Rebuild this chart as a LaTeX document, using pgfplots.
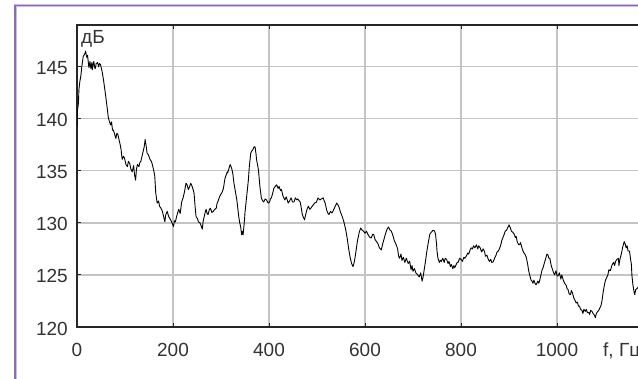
\documentclass[border=0pt]{standalone}
\usepackage{fontspec}
\setmainfont{Liberation Sans}
\usepackage{pgfplots}
\pgfplotsset{compat=1.18}
\definecolor{framepurple}{HTML}{8C6CB4}
\definecolor{gridgray}{HTML}{C4C4C4}
\definecolor{axisdark}{HTML}{262626}
\definecolor{ticktext}{HTML}{333333}
\begin{document}
\begin{tikzpicture}
\useasboundingbox (0,0) rectangle (638pt,378pt);
\clip (0,0) rectangle (638pt,378pt);
\fill[white] (0,0) rectangle (638pt,378pt);
\draw[framepurple!45, line width=3pt] (15pt,-10pt) -- (15pt,372.5pt) -- (700pt,372.5pt);
\draw[framepurple, line width=1.8pt] (15pt,-10pt) -- (15pt,372.5pt) -- (700pt,372.5pt);
\begin{axis}[
  at={(77pt,51pt)}, anchor=south west,
  scale only axis, width=576pt, height=302pt,
  xmin=0, xmax=1200, ymin=120, ymax=149,
  xtick={0,200,400,600,800,1000},
  extra x ticks={1200},
  extra x tick labels={},
  ytick={120,125,130,135,140,145},
  grid=major,
  major grid style={gridgray, line width=1.3pt},
  axis line style={axisdark, line width=1.1pt},
  tick style={axisdark, line width=1pt},
  tick align=inside,
  major tick length=4pt,
  /pgf/number format/assume math mode=true,
  /pgf/number format/1000 sep={},
  tick label style={font=\fontsize{19}{20}\selectfont, text=ticktext},
  xticklabel style={anchor=base, yshift=-29pt, inner sep=0pt},
  yticklabel style={anchor=east, xshift=-9pt, yshift=-1.5pt, inner sep=0pt},
  clip=true,
]
\addplot[black, line width=0.9pt, line join=round] coordinates {
(0,139.2) (1,140.8) (3,141.5) (4,142.8) (6,143.6) (8,144.1) (10,145.0) (13,146.0) (16,146.2) (18,146.5)
(20,145.9) (22,146.1) (24,145.2) (25,144.9) (27,145.5) (29,144.8) (31,145.4) (32,144.7) (34,145.3) (35,145.5)
(37,144.9) (38,144.8) (40,145.3) (43,145.4) (45,145.0) (47,145.3) (49,145.2) (52,144.6) (55,143.8) (58,142.8)
(60,142.1) (63,141.0) (65,140.2) (67,139.8) (70,139.4) (72,139.7) (74,138.9) (76,138.9) (79,138.4) (81,138.1)
(83,138.6) (85,138.5) (88,137.9) (90,137.5) (92,137.0) (94,136.1) (97,136.4) (99,136.2) (102,135.6) (105,135.4)
(107,135.9) (110,135.7) (112,135.2) (115,134.9) (118,135.5) (120,134.6) (122,134.1) (124,135.2) (126,135.6) (129,135.4)
(131,135.8) (133,135.9) (135,136.3) (137,136.7) (140,137.3) (142,138.0) (144,137.4) (146,136.7) (149,136.5) (152,136.1)
(155,135.9) (157,135.6) (160,135.0) (162,134.5) (164,132.9) (167,131.9) (170,132.1) (172,131.6) (175,131.4) (178,131.1)
(180,130.7) (183,130.1) (185,130.8) (188,131.1) (191,130.6) (195,130.3) (198,130.0) (201,129.65) (203,130.2) (205,130.1)
(208,130.7) (212,131.3) (215,130.9) (218,132.0) (221,132.4) (224,133.0) (227,133.8) (229,133.7) (232,133.2) (234,133.4)
(237,133.8) (239,133.6) (242,133.2) (244,132.8) (246,131.6) (248,130.6) (251,130.4) (253,130.1) (256,130.0) (258,129.8)
(261,129.4) (263,130.2) (265,130.6) (267,131.0) (269,131.3) (271,130.9) (273,130.8) (276,131.3) (278,131.4) (281,131.0)
(284,131.1) (287,131.3) (290,131.4) (292,131.9) (294,132.1) (297,132.5) (299,132.7) (302,132.9) (305,133.3) (308,134.2)
(310,134.5) (313,134.9) (314,134.8) (317,135.3) (319,135.6) (321,135.4) (323,135.1) (325,134.6) (327,133.8) (330,133.0)
(333,132.2) (335,131.4) (337,130.6) (339,130.0) (341,129.6) (343,128.85) (344,129.2) (346,128.85) (347,129.3) (349,130.3)
(350,131.0) (352,131.9) (355,133.2) (357,134.1) (359,135.4) (362,136.7) (364,136.9) (366,137.0) (369,137.3) (371,137.3)
(373,136.6) (374,136.1) (376,135.6) (378,135.1) (381,133.5) (383,132.8) (384,132.4) (387,132.1) (389,132.0) (392,132.3)
(395,132.2) (398,131.9) (401,132.0) (403,132.3) (405,132.4) (408,132.9) (410,133.3) (413,133.5) (416,133.65) (419,133.3)
(421,133.5) (424,133.1) (426,133.2) (429,132.6) (433,132.2) (436,132.5) (440,131.9) (443,132.1) (446,132.4) (449,132.0)
(452,132.0) (455,132.4) (458,132.2) (460,132.3) (463,132.1) (465,132.0) (467,131.5) (469,130.9) (471,130.6) (474,130.3)
(476,130.7) (478,131.1) (480,131.4) (482,131.6) (485,131.3) (487,131.4) (490,131.6) (492,131.7) (495,131.9) (499,132.0)
(502,132.4) (506,132.2) (509,132.3) (513,132.4) (515,132.1) (517,131.9) (519,131.5) (520,131.25) (523,130.9) (525,130.8)
(528,131.1) (531,130.95) (533,131.1) (536,131.4) (538,131.6) (541,131.9) (544,131.7) (546,131.5) (549,131.0) (551,130.8)
(554,130.4) (556,130.1) (558,129.7) (560,129.3) (563,128.5) (566,127.5) (569,126.7) (572,126.1) (575,125.8) (578,126.3)
(581,127.2) (584,128.2) (588,129.1) (591,129.5) (594,129.3) (597,129.2) (600,129.0) (603,129.2) (606,128.9) (610,128.6)
(613,128.55) (616,128.9) (618,128.9) (621,128.4) (624,128.2) (627,128.0) (630,127.6) (634,127.4) (637,128.0) (640,128.5)
(643,129.0) (646,129.4) (649,129.6) (652,129.3) (655,129.2) (658,128.8) (661,128.3) (665,127.9) (668,127.5) (670,126.8)
(672,126.6) (675,127.0) (677,126.4) (680,126.7) (683,126.2) (686,126.6) (690,126.1) (693,126.3) (696,125.5) (698,125.9)
(700,125.35) (703,125.6) (706,125.2) (710,125.0) (713,124.8) (716,125.2) (719,124.4) (721,124.8) (723,125.4) (726,126.3)
(728,127.0) (730,127.6) (733,128.4) (735,128.9) (738,129.1) (742,129.3) (745,129.2) (747,128.9) (749,128.0) (750,127.3)
(752,126.6) (755,126.2) (757,126.4) (759,126.3) (762,126.6) (765,126.2) (767,126.6) (770,126.5) (773,126.1) (775,126.3)
(778,125.8) (780,126.0) (783,125.6) (785,125.9) (787,125.7) (790,126.0) (792,126.2) (794,126.2) (797,126.6) (800,126.5)
(803,126.3) (806,126.7) (808,126.6) (811,126.8) (814,127.1) (816,127.0) (819,127.4) (821,127.6) (824,127.5) (826,127.8)
(829,127.6) (832,127.9) (835,127.5) (837,127.8) (840,127.6) (843,127.2) (846,127.5) (849,127.25) (851,126.8) (854,126.9)
(856,126.6) (859,126.3) (862,126.5) (864,126.2) (867,126.25) (870,126.6) (873,126.9) (875,127.2) (877,127.25) (880,127.5)
(883,127.9) (885,128.3) (887,128.55) (890,128.9) (892,129.2) (895,129.3) (898,129.6) (900,129.8) (903,129.5) (905,129.2)
(908,129.1) (911,128.9) (913,128.6) (915,128.7) (917,128.2) (920,127.9) (922,127.9) (924,128.1) (927,127.6) (930,127.2)
(933,127.0) (936,126.7) (939,126.0) (941,125.4) (943,125.0) (946,124.5) (948,124.4) (950,124.2) (952,124.5) (955,124.1)
(957,124.1) (960,124.4) (962,124.2) (964,124.5) (967,125.1) (969,125.5) (971,125.7) (974,126.2) (976,126.5) (979,127.0)
(981,126.95) (983,126.6) (985,126.6) (988,125.9) (990,125.6) (993,125.2) (995,125.0) (998,125.4) (1000,124.9) (1002,124.9)
(1005,125.2) (1008,124.6) (1010,125.0) (1013,124.5) (1016,124.2) (1019,124.0) (1021,123.7) (1023,123.6) (1025,123.2) (1028,123.1)
(1030,123.5) (1032,123.3) (1035,122.8) (1037,122.6) (1040,122.3) (1042,122.4) (1045,122.0) (1047,122.0) (1049,121.7) (1052,121.6)
(1054,121.3) (1056,121.7) (1059,121.5) (1061,121.7) (1063,121.4) (1066,121.4) (1068,121.2) (1070,121.6) (1073,121.5) (1075,121.3)
(1077,121.2) (1080,120.9) (1082,121.3) (1085,121.5) (1087,121.6) (1090,121.9) (1092,122.1) (1094,122.6) (1096,123.3) (1099,124.1)
(1101,124.5) (1104,124.8) (1106,125.0) (1108,125.5) (1111,125.4) (1113,125.7) (1115,126.0) (1118,126.2) (1120,125.9) (1122,126.3)
(1125,126.5) (1128,126.6) (1129,125.9) (1131,126.5) (1134,127.0) (1137,127.7) (1140,128.2) (1142,128.0) (1144,127.6) (1146,127.8)
(1148,127.3) (1151,127.3) (1153,126.6) (1155,126.0) (1156,125.0) (1158,124.1) (1160,123.5) (1162,123.1) (1164,123.6) (1167,123.7)
(1170,123.9) (1175,124.1)
};
\end{axis}
\node[anchor=north west, inner sep=0pt, font=\fontsize{19}{20}\selectfont, text=ticktext] at (81pt,348pt) {дБ};
\node[anchor=base west, inner sep=0pt, font=\fontsize{19}{20}\selectfont, text=ticktext] at (603pt,22pt) {f, Гц};
\end{tikzpicture}
\end{document}
